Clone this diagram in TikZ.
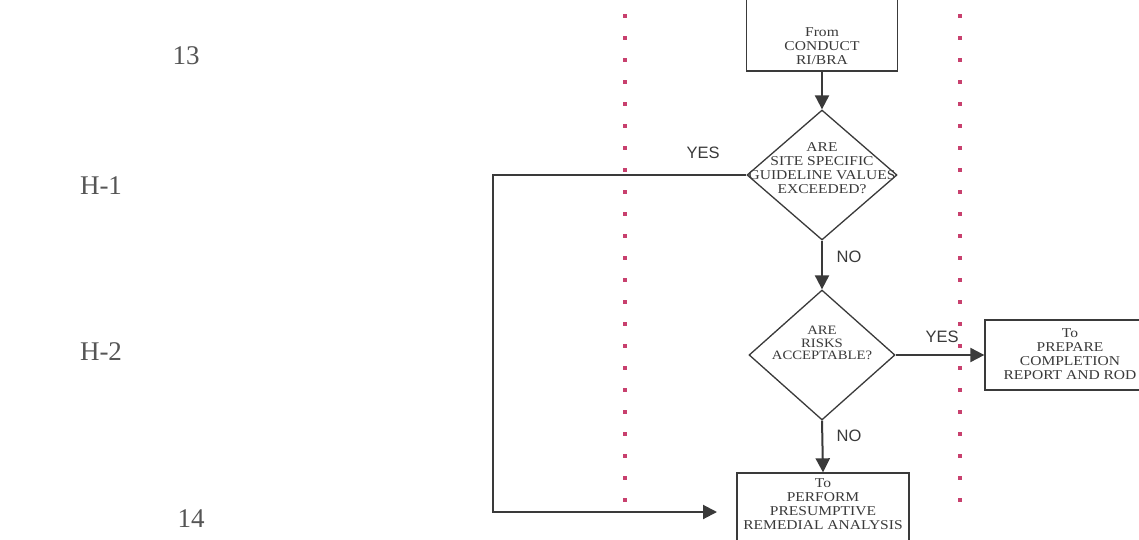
\documentclass[tikz,border=0pt]{standalone}
\usepackage{fontspec}
\setmainfont{Liberation Serif}
\newfontfamily\labsans{Liberation Sans}
\newfontfamily\boxfont[FakeStretch=1.15]{Liberation Serif}
\usetikzlibrary{arrows.meta,shapes.geometric}
\definecolor{ink}{HTML}{3A3A3A}
\definecolor{dotc}{HTML}{C8406E}
\definecolor{side}{HTML}{555555}
\tikzset{
  boxst/.style={draw=ink, line width=1.3pt, rectangle, inner sep=0pt},
  dia/.style={draw=ink, line width=1.3pt, diamond, inner sep=0pt},
  intext/.style={align=center, text=ink, font=\boxfont\fontsize{13.5}{13.8}\selectfont, inner sep=0pt},
  conn/.style={draw=ink, line width=2pt, -{Triangle[length=14pt,width=14pt]}},
  answ/.style={text=ink, font=\labsans\fontsize{16.5}{16.5}\selectfont, inner sep=0pt},
  sidelab/.style={text=side, font=\fontsize{27}{27}\selectfont, inner sep=0pt},
  dotsq/.style={fill=dotc, draw=none}
}
\begin{document}
\begin{tikzpicture}[x=1pt,y=-1pt]
\useasboundingbox (0,0) rectangle (1139,540);
\clip (0,0) rectangle (1139,540);
\fill[white] (0,0) rectangle (1139,540);
% dotted lines
\foreach \yy in {16,38,...,510}{
  \fill[dotsq] (623,\yy-1.9) rectangle (627,\yy+1.9);
  \fill[dotsq] (958,\yy-1.9) rectangle (962,\yy+1.9);
}
% side labels
\node[sidelab] (n13) at (186,56) {13};
\node[sidelab] (h1) at (101,186) {H-1};
\node[sidelab] (h2) at (101,352) {H-2};
\node[sidelab] (n14) at (191,519) {14};
% boxes
\node[boxst, minimum width=151pt, minimum height=110pt] (b1) at (822,16) {};
\node[intext] (t1) at (822,46) {From\\CONDUCT\\RI/BRA};
\node[dia, minimum width=150pt, minimum height=130pt] (d1) at (822,175) {};
\node[intext] (t2) at (822,168) {ARE\\SITE SPECIFIC\\GUIDELINE VALUES\\EXCEEDED?};
\node[dia, minimum width=146pt, minimum height=130pt] (d2) at (822,355) {};
\node[intext, font=\boxfont\fontsize{12.8}{12.2}\selectfont] (t3) at (822,343) {ARE\\RISKS\\ACCEPTABLE?};
\node[boxst, minimum width=170pt, minimum height=70pt] (b3) at (1070,355) {};
\node[intext] (t4) at (1070,354) {To\\PREPARE\\COMPLETION\\REPORT AND ROD};
\node[boxst, minimum width=172pt, minimum height=94pt] (b4) at (823,520) {};
\node[intext] (t5) at (823,504) {To\\PERFORM\\PRESUMPTIVE\\REMEDIAL ANALYSIS};
% connectors
\draw[conn] (b1.south) -- (d1.north);
\draw[conn] (d1.south) -- (d2.north);
\draw[conn] (d2.south) -- (b4.north);
\draw[conn] (d2.east) -- (b3.west);
\coordinate (c1) at (493,512);
\coordinate (yesend) at (717,512);
\draw[conn] (d1.west) -| (c1) -- (yesend);
% answer labels
\node[answ] (yes1) at (703,153) {YES};
\node[answ] (no1) at (849,257) {NO};
\node[answ] (yes2) at (942,337) {YES};
\node[answ] (no2) at (849,436) {NO};
\end{tikzpicture}
\end{document}
